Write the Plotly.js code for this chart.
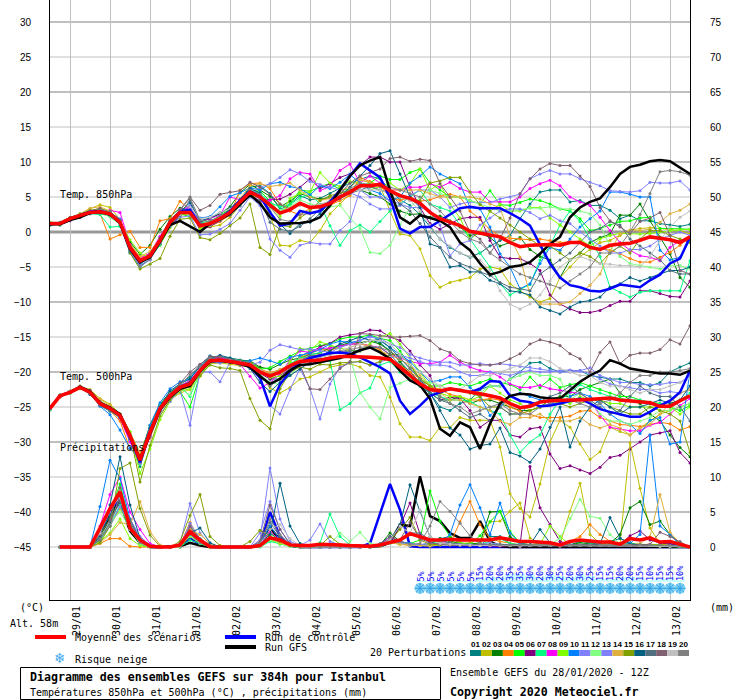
<!DOCTYPE html>
<html><head><meta charset="utf-8">
<script src="https://cdn.plot.ly/plotly-3.0.1.min.js"></script>
<style>html,body{margin:0;padding:0;background:#fff}</style></head>
<body><div id="g" style="width:740px;height:700px"></div>
<script>
const dayLabels=["29/01","30/01","31/01","01/02","02/02","03/02","04/02","05/02","06/02","07/02","08/02","09/02","10/02","11/02","12/02","13/02"];
const pertColors=["#008080","#bfbf00","#008000","#ff8000","#00ff00","#800080","#00ff80","#ff00ff","#80ff00","#0080ff","#8080ff","#80ff80","#8080ff","#dfaf3f","#80a000","#006080","#507080","#806070","#c0c0c0","#808080"];
const snowPct=[5,5,5,5,5,5,15,20,20,35,35,30,20,30,25,20,30,25,15,15,20,20,15,10,15,15,10];

const t850_mean=[1.2,1.2,1.9,2.3,2.8,2.9,2.6,1.4,-2.2,-4.1,-3.4,-1.2,1.4,2.8,2.8,.9,1.2,1.9,2.8,4.3,5.7,5,3.8,2.7,3.2,4.1,3.5,3.6,4.1,5,5.7,6.6,6.6,6.8,5.9,5.2,4.8,4.1,2.8,1.9,1.4,.9,.1,-.2,-.4,-.7,-1.5,-2.1,-1.9,-1.8,-1.8,-1.9,-1.5,-1.5,-2.2,-2.5,-1.9,-1.7,-1.6,-1.2,-.7,-.9,-1.1,-1.5,-.7];
const t850_ctrl=[1.1,1.2,1.9,2.4,2.9,3,2.5,1.3,-2.4,-4.3,-3.5,-1.3,1.3,2.9,3.2,.9,1.1,1.9,3,4.5,5.8,5.1,2.8,.9,1.2,3,2.7,3,4.3,6,8,9.8,8.8,7.8,4.9,.5,-.2,.7,.7,1.6,2.4,3.4,3.6,3.4,3.4,3.4,2.7,1.9,.9,-1.7,-4.5,-6.5,-7.6,-7.9,-8.4,-8.5,-8.1,-7.5,-7.7,-7.9,-6.9,-6.1,-4.5,-3.8,-.7];
const t850_gfs=[1.1,1.1,1.7,2.1,2.7,2.9,2.5,1.3,-2.4,-4.3,-3.6,-1.4,1,1.6,.8,0,1.2,1.8,2.6,4,5.3,4.1,2.1,1.2,1.2,1.3,1.5,2.1,3.8,6,8,9.5,10.2,10.7,5.9,2.1,1.2,2.4,2,1.6,.7,-1.5,-2.6,-4.5,-6.1,-5.7,-5,-4.8,-4.3,-3.1,-1.7,-.7,2.1,3.5,4.3,4.8,6.4,8.3,9.3,9.6,10.1,10.3,10.1,9.2,8.3];
const t850_01=[1,1.3,1.8,2.4,2.9,3,2.5,1.5,-2.5,-4.6,-3,-.8,1.8,3,3.6,1.2,1.6,2.2,3.2,4.6,6.4,6.6,5.5,3.2,4,5.2,4.6,4.8,5.5,6.3,7,7.5,8,7.6,6,4.6,3.8,2.5,.8,-1,-2.2,-3,-3.6,-3,-2,-1.2,-.5,1.9,4,5.7,6,6,4.3,4.5,3.8,3.8,3.1,1.9,2.4,1.6,1.6,1.2,1,.8,1.1];
const t850_02=[1.2,1.1,1.7,2.5,3.3,3.9,3.5,1.8,-1.6,-3.6,-3.1,-1.5,1,2.4,2.6,.6,.7,1,2.1,3.8,5.5,4.2,2.5,-1.9,-2,-1.2,-1.5,.2,2.6,4,5.5,7.5,7,6.6,3,-.3,-.5,-2.4,-6.2,-7.9,-7.2,-6.9,-6.5,-5.3,-5,-5.3,-7.4,-8.4,-9.3,-10,-9.5,-6.5,-5,-3.5,-2.5,-1.5,-1.2,-.5,.3,.5,.6,.5,.4,.2,-.3];
const t850_03=[1.1,1.4,2.1,2.6,3,3.1,2.9,1.2,-1.4,-3.2,-1.9,.4,2.2,3.4,3.2,1.4,1.9,2.6,3.6,5.6,6.8,6,5.1,3.6,4.4,5.5,5,4.7,4.9,5.6,6,6,5.5,5,4,3,2.5,2.6,2.1,2.3,1.6,.7,-.5,-.2,-.8,-2,-1.5,-.8,-2.5,-3.5,-4,-6.5,-4,-3,-1.5,-.8,-.3,2.4,2.4,4,1.6,-.7,-3.1,-6.5,-7.9];
const t850_04=[1.3,1.2,2,2.4,2.9,2.6,-1,-.4,.1,-2.2,-2.2,1.6,1.9,4.4,3.2,.6,.8,1.5,2.4,6,6.9,7,6.2,4,3,2.4,3.4,3.9,3.8,4.5,5.2,7.8,7.2,6.6,5,4.5,5,4.4,4.6,5.1,5.4,5,3,1.8,.3,-.6,-.9,-1,-1.1,-1,-1.2,-1.5,-1.4,-1.3,-2,-2.4,-2.6,-3.1,-3.8,-4.3,-4.3,-3.6,-2.9,-1.9,-.7];
const t850_05=[1.4,1.3,2,2.3,2.7,2.6,2.3,1.1,-2.8,-4.5,-3.7,-1.9,1,2.6,2.2,.9,1.4,2.4,3.2,4.1,5.8,5.9,4.4,2.8,3.9,6,5.8,6.5,6.9,6.1,6,6.5,7,8,7.5,7.5,8.5,9,7,6,5,5,4.5,4,5.9,3.9,3.8,4.2,4.7,4.5,4,3.3,3,1.9,.2,.5,1,1.5,1.6,2,2.1,.5,.5,.4,.4];
const t850_06=[1.2,1,1.6,2.1,2.7,2.9,2.7,1.7,-1.9,-3.9,-3.4,-1.4,.9,2.3,3.1,.3,.8,1.6,2.7,4.4,5.4,4.8,4.6,4.7,5.4,6.4,7.6,6.2,6.9,7.8,8.3,9.5,10.7,10.7,10,10,6.4,3.5,1.2,.4,1.2,1.9,2.1,2.1,-1.2,-3.6,-3.8,-3.8,-4.5,-5.5,-9,-10.3,-11,-11.5,-11.5,-11.2,-10.5,-9.9,-9.9,-8.4,-8.4,-8.8,-9.2,-9.3,-7];
const t850_07=[1.3,1,1.8,2.2,2.6,2.5,.7,.8,-2.6,-4.5,-3.2,-.9,1.5,2.9,2.5,1.3,1.5,2,2.7,4.2,5.8,5.6,4.2,3.6,3.9,4.9,5.4,4,.9,-1.9,.2,1,0,1.5,3,4,5,6,4,3.5,3,1,-1,-3,-5,-7.4,-9,-8.2,-7.5,-4,-2,1,3,1.5,-1,-3.5,-7.9,-8.6,-9.3,-8.6,-8.4,-8.4,-8.4,-8.4,-4.1];
const t850_08=[1.2,1.2,2,2.4,2.9,3,3.1,2.8,-1.8,-3.8,-3,-.6,1.4,3.2,3.5,1.5,1.9,2.4,5,4.6,5.6,4.4,4.5,5.2,7.6,8.5,8.3,5.9,6.5,8.8,9.7,7,8,7,6,6,6.4,6.4,6.9,6.4,7.1,6.2,5.7,5.7,4.3,4.3,4.3,5,6.2,6.9,7.4,6.6,5,4.3,3.8,2.1,.2,-1.5,-2.6,-3.4,-3.6,-4.1,-2.2,-1.2,-.7];
const t850_09=[1,1.1,1.9,2.5,3,3.4,2.9,1.5,-1.1,-3,-3.7,-1.8,.6,2.2,3.3,.5,.9,1.7,2.5,3.9,5.2,4.9,3.7,2.2,4.8,5.5,5.7,8.5,7,6.5,7.2,7,6,6.5,7,6,6.9,9,6,6.9,4,2,-1,0,3,4,3,3,3.5,3.5,2,1,0,-1,-2,-1,-.5,-.2,-.3,-.3,-.2,0,.2,.3,.4];
const t850_10=[1.1,1.3,1.9,2.2,3,2.9,2.4,1,-3,-5,-3.9,-1.7,1.2,2.7,2.9,2,2.2,3.6,5.1,5.6,6.3,6,6.9,7.1,6.5,6.2,5.3,6.6,6.2,7.1,8.2,7,6,5.5,4.5,5,7,8,9.3,8.3,7.6,6.9,3.5,3.3,.7,-3.1,-5,-8.1,-7.4,-4.5,-2.2,-2.6,-1,.7,1.9,3,5.7,5.7,5.4,5,5,-2.6,-4,-3.6,-1.2];
const t850_11=[1.2,1.2,1.7,2.3,2.7,2.8,2.8,1.9,-2.4,-4.7,-4,-1.4,1.2,3.1,3.8,1.1,1,1.7,2.6,4.4,5.5,6.4,6.9,7.8,8.9,8.3,7.2,6.8,6.4,6,5.6,5,4,3.3,3.3,3.8,5.2,6,6,5,3.5,4,4.3,4.2,4.2,4.7,5,5.4,7.6,8.3,8.8,8.3,8.3,7.6,7.1,6.6,5.9,5.8,5.7,5.9,7.1,7,7,7.3,6];
const t850_12=[1.1,1.1,1.8,2.3,2.8,2.9,2.1,1.1,-2.6,-4.2,-3.5,-1,1.3,2.6,2.7,1,1.3,1.8,2.9,4,5.4,4.9,3.4,3.1,3.6,4.6,4,3.7,3.6,3.8,2,.5,-2.9,-3.1,-1.9,1,3.5,5,6,5.5,5,5,4.5,4,3.5,3,3,3.2,3.4,3.4,3.6,3.3,3.3,3,2.6,1,-2,-3.5,-4.5,-4.8,-5,-5.3,-4.8,-4.8,-5.3];
const t850_13=[1.2,1.3,1.9,2.4,2.7,2.7,2.5,1.3,-2.9,-4.8,-3.9,-1.5,.8,2.1,2.3,-.4,-.3,.4,1.2,3.1,5,3.8,-1,-2.6,-3.6,-1.9,-1.5,-1.7,-1.7,.2,1.5,6,5,5,4.5,4,3.5,3.5,3,1,-3.4,-1.7,-1.2,1,2,3,3.3,3.3,2.8,1.9,2.4,1.6,1.2,0,-1,-2,-3,-3,-2.5,-2.5,-2,-1,-.5,0,-.5];
const t850_14=[1.3,1.2,1.8,2.6,3.4,3.6,3,1.6,-1.9,-3.5,-2.8,-.9,1.6,3,2.6,1.1,1.5,2.1,2.9,4.8,6.6,6.9,6.5,6.7,7,6,5,4.5,4.8,5.9,6.4,7.5,7,6.5,6,6,6,6,5.5,5,5,5,5,4.7,4,3.5,-.7,-3.6,-9,-10.3,-10.3,-10.3,-10,-8.8,-7.6,-6,-2.7,-.3,.2,.2,.4,1.4,2.6,3.1,4];
const t850_15=[1.2,1.2,1.9,2.5,3.1,3.2,2.7,1.4,-3,-5.3,-4.6,-3.8,-.6,1.8,2,-.8,-1.1,-.2,.9,2,4,-2.2,-3.2,.9,.8,2,3,4.5,5.2,5.6,5.9,6.5,6.5,6,5.5,5,4.5,4.5,7,7.3,7.8,7.8,5.7,3.9,3,2,1,0,-1,-2,-2,-3,-4,-3,-3.5,-4.5,-3,-2,-3,-1,.2,.2,-.5,-1,-1.5];
const t850_16=[1,1.2,1.8,2.3,2.8,3,2.9,1.7,-2.1,-4,-3.2,-.9,1.6,2.9,4.2,1.6,2,2.7,3.4,4.6,6.2,5.6,2.9,1.1,-.2,1.2,1.4,2.6,4.4,5,6.4,8,9.5,11.2,11.6,8.3,5,3.5,-1.7,-2.2,-5,-4.8,-5.7,-5.7,-6.9,-7.4,-8.4,-8.6,-9,-10.7,-11.2,-11.7,-10.7,-10,-9.8,-9.3,-7.9,-7.4,-6.5,-7,-6.5,-6,-5.5,-5.5,-5];
const t850_17=[1.1,1.3,1.9,2.2,2.6,2.7,2.4,1.3,-2.8,-4.4,-3.5,-1.3,1.1,2.4,4.6,1.3,1.1,1.7,2.4,3.7,5.1,4.5,1.4,.4,.1,.8,1.9,3.3,4,4.8,5.5,6,6.5,6,5.5,4,3,1.2,-.7,-2.2,-3.6,-4.5,-5,-5.7,-6.2,-7.2,-7.9,-8.1,-8.4,-6,-5,-4,-3,-1.5,0,.5,1.5,1,-1,-2,-3,-4,-5.5,-6,-6];
const t850_18=[1.2,1.1,1.8,2.4,3,3.4,2.8,1.5,-2.3,-4.3,-3.3,-1.1,1.6,3.2,5,3.1,3.8,5.4,5.7,5.9,7.1,6.4,5.4,4,3.3,4,3.6,3.9,4.3,5.4,7,8,8.5,9,10.5,10.7,10.1,10.4,10.2,6.9,5,3,0,-1,-3,-1,2,5.5,7.6,9,9.8,9.5,9.5,8,6.5,3.5,1.6,.7,-.2,1.5,2,2.8,-.5,-5.5,-6];
const t850_19=[1.3,1.2,1.9,2.3,2.9,3,2.6,1.4,-2.4,-4.2,-3.4,-1.2,1.4,2.5,3.5,1.9,2.1,2.8,3.3,4.2,5.6,5.2,3.9,2.9,3.3,3.8,3.7,3.9,4.5,5.2,5.8,6,6,6,5.5,5,4.5,3,1,-1,-2,-3,-3.5,-4,-5.5,-8.4,-10.3,-11,-10.3,-9,-7,-5,-4,-3.5,-4,-4.5,-4.6,-4.8,-4.8,-5,-3.5,-1.2,.7,2.1,3];
const t850_20=[1.1,1.2,2,2.4,2.8,3.1,2.8,1.6,-2.6,-4.9,-3.9,-1.6,1.2,3,4.9,1.7,1.5,2.3,3.1,4.5,6,5.4,3.6,1.8,1.5,2.5,2.6,3.1,4,5.1,6.2,7,6.8,6.5,6.4,6,5.5,5,4,3,1.5,0,-1,-1.5,-3,-4,-5,-6,-6.5,-7,-7.5,-8,-7,-6,-5,-3,-3,-2,0,2.5,5.5,8.6,8.8,8.6,8.1];

const t500_mean=[-25.2,-23.4,-22.9,-22.2,-22.9,-24.5,-25.2,-26.2,-29.1,-32.6,-28.6,-25.2,-23.4,-22.2,-21.7,-19.8,-18.4,-18.3,-18.5,-18.7,-19,-20,-20.6,-20,-19.1,-18.5,-18.4,-18.3,-18,-17.8,-17.8,-17.8,-17.9,-18,-18.2,-19.3,-20.5,-21.7,-22.5,-22.7,-22.4,-22.6,-22.9,-23.1,-23.4,-23.7,-24.5,-25.1,-24.9,-24.3,-24.1,-24,-24,-24,-23.9,-23.7,-23.7,-24,-24.1,-24.3,-24.4,-24.9,-24.9,-24.1,-23.4];
const t500_ctrl=[-25.2,-23.4,-22.9,-22.2,-22.9,-24.5,-25.2,-26.2,-29.3,-32.9,-28.7,-25.2,-23.4,-22.2,-21.6,-19.8,-18.4,-18.3,-18.5,-18.7,-19.2,-20.8,-24.9,-21.8,-19.9,-18.6,-18,-17.6,-17.3,-17.2,-17.4,-17.9,-18.6,-19.3,-20.2,-24.1,-26,-24.8,-23.4,-22.9,-22.4,-22.6,-22.9,-22.4,-21.3,-21.4,-23.4,-24.1,-24.3,-24.9,-24.8,-24.5,-24.1,-23.8,-24.5,-25.3,-25.7,-26.1,-26.4,-26.4,-25.7,-24.8,-24.1,-22.9,-19.8];
const t500_gfs=[-25.2,-23.4,-22.9,-22.1,-22.8,-24.4,-25.1,-26,-29,-32.6,-28.8,-25.4,-23.6,-22.4,-22,-19.9,-18.5,-18.4,-18.6,-18.8,-19.3,-20.6,-21.7,-21,-19.8,-19,-18.9,-18.6,-18.3,-18,-17.5,-16.9,-16.5,-17.2,-18.1,-19.8,-21.2,-21.9,-23.8,-28.1,-29.1,-27.2,-27.9,-31,-27.4,-24.5,-23.4,-23.1,-23.2,-23.6,-23.8,-23.8,-22.6,-21.4,-20.5,-19.8,-18.3,-18.8,-19.5,-19.8,-20,-20.2,-20.2,-20.4,-19.8];
const t500_01=[-25.3,-23.5,-23,-22,-23.1,-24.8,-25.6,-26.5,-29.8,-33.5,-28.9,-25.4,-23.1,-21.6,-20.7,-19,-17.8,-17.8,-18,-18.3,-18.5,-19.5,-21,-21,-19.5,-17.8,-17,-16.6,-16.9,-16.3,-16,-16,-15.5,-15.8,-17,-18.5,-20,-21.5,-23,-25,-25.5,-24.5,-24,-22.5,-22,-22,-21,-20,-18.7,-18.6,-19.5,-20,-19.8,-19.8,-20.5,-20.8,-21,-21,-21.5,-21.5,-22,-21.5,-20,-19.3,-18.7];
const t500_02=[-25.2,-23.3,-22.8,-22.1,-22.5,-23.8,-24.6,-26,-28.6,-31.6,-28,-25.6,-24,-23,-22.5,-20.6,-18.8,-18.7,-18.9,-19.1,-19.3,-20.2,-22.3,-23,-22.2,-21,-20.7,-20,-19.3,-19,-18.8,-19.3,-20.5,-20.7,-23.6,-27.4,-29.3,-29.3,-29.8,-27.9,-27.9,-26.5,-26.9,-26.9,-26.9,-30.7,-37.4,-39.5,-40.7,-36,-30,-26.9,-27.9,-30.3,-32.5,-31.4,-27.9,-28.5,-29,-28,-27,-26,-25.5,-25,-24.5];
const t500_03=[-25.4,-23.4,-22.8,-22.3,-23,-24.4,-25.4,-26.4,-29.3,-32,-27.6,-24.6,-22.9,-21.9,-21.4,-19.5,-17.7,-18,-18.4,-18.4,-18.4,-19.3,-19.6,-18.9,-18.3,-18,-17.5,-17.3,-16.5,-16.2,-15.8,-15.8,-15.6,-16,-17,-18.5,-20.5,-22,-23,-24,-24,-23.5,-24.5,-24,-24,-24.5,-25,-25.5,-25.5,-25,-24,-23.5,-23.5,-22.5,-22,-21.5,-21,-23,-24,-24.5,-26,-27,-29,-30.8,-32.1];
const t500_04=[-25,-23.6,-22.9,-22.2,-23,-24.6,-25.5,-27,-31,-32,-29.4,-25.7,-23.3,-22.3,-22.2,-20.3,-18.3,-18.2,-18.6,-18.8,-18.5,-19.6,-20.1,-19.7,-19,-17.9,-17.4,-16.8,-16.9,-16.4,-16,-16,-16.2,-16.8,-18,-19,-20,-21,-22,-22.5,-23.2,-23.5,-24,-24,-23.8,-24,-25,-25.6,-26,-26.5,-26.5,-26.5,-26.3,-25.6,-25.5,-26.5,-27,-27.5,-27.6,-27.8,-27.5,-27.2,-27.4,-28.3,-27.8];
const t500_05=[-25.1,-23.3,-22.9,-22.3,-22.8,-24.6,-25.1,-26.4,-29.6,-33,-28.4,-24.9,-23.6,-22.8,-25,-20.4,-18.6,-18.4,-18.2,-18.4,-18.6,-19.6,-19.4,-18.5,-17.7,-17,-16.6,-16.2,-15.9,-15.3,-15,-15,-14.7,-15.2,-15.5,-17,-19,-21,-22,-22,-21.5,-21.8,-22,-21.5,-21,-21.5,-21.8,-22.5,-20.7,-22.2,-21,-22.2,-21.8,-21.5,-22,-22.5,-23,-23.5,-23.5,-24,-24.3,-24.5,-25,-25.5,-24.8];
const t500_06=[-25.2,-23.4,-22.9,-22.1,-22.7,-24.3,-25.1,-26.2,-29.2,-32.8,-29,-25.5,-23.6,-22.4,-21.9,-19.9,-18.3,-18,-18.3,-18.6,-19.1,-20.2,-21,-20.5,-19.6,-18.3,-17.4,-16.4,-15.9,-15,-14.7,-14.5,-14,-14.1,-15,-15.5,-17,-19,-20.5,-24,-23.6,-23.8,-25.5,-27.9,-26.9,-26.9,-29,-29.3,-28.1,-27.9,-31.7,-33.8,-33.4,-34,-34.5,-33.6,-32.2,-31.9,-31,-30,-29,-28.7,-28.4,-31.5,-33];
const t500_07=[-25.4,-23.5,-22.7,-22.2,-22.9,-24.6,-25.3,-26.2,-29.4,-33.2,-27.9,-24.8,-23,-22,-23.5,-20,-18.4,-18.3,-18.4,-18.6,-18.9,-19.9,-20.4,-19.8,-18.8,-18,-17.6,-17.2,-18.4,-25.4,-24.5,-23,-22.3,-19,-18.5,-20,-21,-22,-23,-23.5,-24,-24,-24.2,-25,-25.5,-26,-29,-31.5,-30,-29,-26,-24,-23,-21.8,-22.5,-23,-23.5,-23.8,-24,-24,-24.5,-24.5,-25,-24,-23];
const t500_08=[-25.2,-23.4,-22.8,-22.2,-22.8,-24.4,-25.2,-26.6,-30,-33,-29,-25.3,-23.2,-22,-21.2,-19.5,-18,-18,-18.2,-18.9,-20.6,-22.3,-21.5,-20.3,-18.3,-17,-17.2,-16.6,-16.6,-16.3,-16,-16,-16.2,-16.5,-17.5,-18,-18.5,-18.8,-18.8,-18.6,-17.6,-18.6,-19.3,-19.8,-20,-20.7,-21.7,-22.2,-22.2,-21.9,-22.4,-22.6,-22.9,-23.1,-24,-26.2,-27.9,-28.1,-28.4,-28.4,-27.6,-27.2,-26,-24.8,-23.8];
const t500_09=[-25.3,-23.5,-23,-22.4,-22.9,-24.2,-24.9,-26,-28.5,-34.5,-31,-26.8,-24.2,-22.7,-22.4,-20.2,-18.2,-18.6,-18.3,-18.5,-18.8,-19.7,-20.8,-20.6,-18.5,-16.6,-16.9,-15.7,-16.2,-16.6,-16.9,-17,-16,-15,-14.5,-16,-18,-20,-22,-23,-23.5,-23.5,-24,-23.5,-22,-23,-24,-24.5,-25.5,-25,-24,-24,-24.5,-23.5,-24,-24,-24.5,-24.5,-25,-25,-25,-25,-25,-26,-25];
const t500_10=[-25.1,-23.3,-22.9,-22.2,-23,-24.9,-26.1,-28.3,-30.9,-32.4,-27.6,-24.4,-22.4,-21.4,-21,-19,-17.7,-18.6,-18.4,-18.5,-18.4,-18,-18.4,-18.9,-17.9,-17.6,-17.3,-16.8,-16,-15.6,-15.8,-15.5,-14.8,-15.5,-16.5,-17.5,-18.5,-20,-21.4,-21.2,-20.7,-20.7,-22.2,-23.5,-26.2,-25,-23.5,-23,-23.5,-24,-24.5,-24.5,-23.5,-23,-23.5,-24.5,-26,-27,-27.5,-28.8,-26.9,-26.5,-30.3,-30,-19.8];
const t500_11=[-25.2,-23.5,-22.9,-22.1,-22.8,-24.4,-25.1,-26.2,-29.3,-32.4,-28.3,-25.2,-23.7,-22.5,-21.8,-19.8,-18.6,-18.7,-18.3,-18.7,-19,-18.6,-16.9,-16.1,-16.4,-16.8,-16.7,-17,-17.2,-16.5,-16,-15.5,-15,-15.2,-16,-16.5,-17.5,-18,-18.4,-18.6,-18.6,-19,-19,-18.8,-19,-18.8,-19,-19.2,-19.3,-19.5,-19.8,-20,-20,-19.8,-19.4,-20.5,-21,-21.5,-21.5,-21.8,-21.8,-21.8,-21.5,-21.5,-20.5];
const t500_12=[-25.3,-23.4,-22.9,-22.3,-23,-24.5,-25.3,-26.3,-29,-32.5,-28.7,-25.3,-23.5,-22.3,-23.3,-20.1,-18.5,-18.4,-18.6,-18.9,-19.2,-20.3,-21.5,-21.8,-20.5,-19,-18.9,-18.7,-18.3,-18,-17.9,-22.9,-25,-26.7,-22.2,-21.6,-21,-21,-21.5,-22,-22.5,-22.5,-23,-23,-22,-22,-21,-20.5,-20,-20.5,-20.5,-21,-24,-23,-24,-26,-27,-27,-27.5,-27,-26.5,-25.5,-25.5,-25,-24.5];
const t500_13=[-25.2,-23.4,-22.8,-22.2,-22.9,-24.5,-25.2,-26.3,-29.6,-33,-29.2,-25.9,-24.2,-22.6,-27.6,-20,-20,-21.4,-18.6,-18.9,-19.4,-21,-24.8,-26,-22.5,-19.5,-22.4,-26.7,-21.7,-19.3,-18.7,-18.5,-19,-18.6,-18,-17.6,-18,-18.5,-19,-19,-19.2,-20,-20.5,-20.5,-20,-20.2,-20.5,-20,-19.8,-20,-20,-19.8,-19.7,-19.9,-20.2,-21,-21.7,-22,-22.2,-22.5,-22.5,-23,-22.8,-23,-22.5];
const t500_14=[-25.1,-23.4,-22.7,-22,-22.6,-23.9,-24.8,-26.4,-28.9,-31.5,-28.8,-25.6,-23.8,-22.6,-22.1,-20.2,-18.5,-18.2,-18.3,-18.6,-18.9,-19.7,-20.2,-19.6,-19,-18.2,-17.7,-17.5,-17.5,-17,-16.5,-16,-16.3,-17,-17.5,-18.2,-19,-20.5,-22,-23,-24,-24,-24.5,-25,-25.5,-27,-27.5,-26.5,-26.5,-26,-27,-27,-27,-26.5,-27.5,-28,-27.5,-28,-29,-28,-27.5,-26,-24.5,-23,-22.5];
const t500_15=[-25.2,-23.4,-23,-22.3,-22.9,-24.5,-25.1,-26.1,-28.9,-35.7,-30.5,-26.3,-24,-22.5,-22,-20.5,-19,-19.4,-19.5,-19.8,-23.8,-26.9,-28.1,-22.4,-20,-19.3,-19.6,-18.9,-19,-18.7,-18.6,-18.5,-19,-18.5,-17.5,-17.5,-19,-21,-22,-23,-22.5,-22.5,-23,-23.5,-25,-25,-26,-26,-25.5,-25,-24,-24.5,-25,-24.5,-24,-24,-25,-25.5,-26,-26,-25,-25.5,-26,-27,-31.5];
const t500_16=[-25.3,-23.5,-22.9,-22.2,-23.2,-24.7,-25.4,-26.5,-29.5,-32.2,-28,-25,-22.7,-21.7,-21,-19.2,-18.1,-17.6,-18,-18.6,-19.5,-21.5,-22.8,-21.5,-20.5,-19.6,-18.6,-17.9,-17,-16,-15.5,-15,-15.5,-15.4,-16.5,-18,-19.5,-21,-23,-25.5,-28,-29,-31,-30.5,-30.3,-28,-31.5,-32,-32.9,-31,-27.9,-25,-30.7,-27,-25,-24,-25,-26,-25,-25,-24.5,-24,-24.5,-24,-22];
const t500_17=[-25,-23.5,-22.9,-22.2,-23.1,-24.8,-25.5,-26.5,-29.4,-32.7,-28.5,-25.4,-23.3,-22,-21.4,-19.7,-18.3,-18.4,-18.6,-19,-19.3,-20.6,-22,-21,-19.7,-18.4,-17.7,-17.6,-17.5,-17.2,-17,-17,-16.5,-16.5,-17.5,-19,-20.5,-22,-23,-24,-24.5,-25.5,-26.5,-26,-27,-25,-26,-26,-24.5,-24.2,-23.5,-23,-22,-23,-24,-25,-26,-25.5,-23.5,-22,-23,-23.5,-23.5,-25,-27];
const t500_18=[-25.2,-23.4,-22.8,-22.1,-22.6,-24.2,-25,-26,-29,-32.3,-29.3,-25.6,-23.2,-21.6,-20,-18.9,-17.8,-17.8,-18.2,-18.4,-18.7,-19.8,-20.4,-20,-19.6,-19,-22.4,-22.5,-21,-19.5,-18.5,-14.5,-14.6,-14.8,-15,-15,-14.9,-14.8,-15.5,-16.7,-17.2,-18.4,-18.8,-19,-19,-18.8,-18.1,-17.4,-16,-15.4,-15.7,-16.2,-17.4,-18.1,-20,-17.2,-15.7,-18.8,-17.6,-17.3,-17.3,-16.8,-15.4,-16,-13.4];
const t500_19=[-25.2,-23.4,-22.9,-22.2,-22.9,-24.4,-25.2,-26.2,-29,-32.4,-28.5,-25.2,-23.5,-22.3,-21.6,-19.7,-18.3,-18.2,-18.4,-18.6,-18.9,-19.8,-20.5,-19.9,-19,-18.3,-18.1,-17.9,-17.5,-17,-16.5,-16,-15.5,-15.5,-16,-17.5,-19,-20,-21,-22,-22.5,-22.5,-21.5,-20.5,-20.5,-20,-19.5,-19,-18,-18,-18.5,-19.5,-20,-20.5,-20.5,-21.5,-22,-22,-22.5,-23,-22.5,-22.5,-22,-21.5,-21];
const t500_20=[-25.3,-23.5,-22.8,-22.3,-23,-24.6,-25.3,-26.3,-29.2,-32.9,-28.7,-25.1,-23.1,-21.9,-20.4,-19.2,-18,-18.1,-18.5,-18.8,-19.2,-20.4,-21.8,-21,-19.8,-18.7,-18,-17.7,-17.4,-17,-16.7,-16.5,-16.3,-16.5,-17,-18,-19.5,-21,-22.5,-23.5,-24.5,-25,-26,-25.5,-25,-24.5,-25.5,-26,-26,-25,-24.5,-24,-24,-24.5,-25,-24.5,-24,-23,-21.5,-20.5,-20.5,-20,-20,-19.8,-19.5];

const pr_mean=[null,0,0,0,0,2.7,5.5,7.9,2.7,1,.1,0,0,.3,2.2,1,.05,0,0,0,0,.2,1.3,1,.3,.2,.2,.4,.4,.3,.2,.1,.1,.3,.6,1,1.9,1.5,1,1,1.1,1,1,1,1,1.3,1,.8,.8,.7,.6,.3,.8,1,.8,.7,.7,.4,1.2,1,1.3,.7,.8,.4,0];
const pr_ctrl=[null,0,0,0,0,2,5,7,2.5,.7,0,0,0,.1,1.2,.4,0,0,0,0,0,.2,5,1.5,.2,0,0,0,0,0,0,0,.5,4.9,9,5.3,.1,0,0,0,0,0,0,0,0,0,0,0,0,0,0,0,0,0,0,0,0,0,0,0,0,0,0,0,0];
const pr_gfs=[null,0,0,0,0,1.5,4.5,6.5,2.3,.6,0,0,0,.1,.6,.2,0,0,0,0,0,.2,2.8,1,.2,0,0,0,0,0,0,0,0,.1,.6,3.2,3,10.1,4.4,3.7,2,1.3,1.3,3.7,.8,.1,0,0,0,0,0,0,0,0,0,0,0,0,0,0,0,0,0,0,0];
const pr_01=[null,0,0,0,0,2,4.5,6.5,3,1,.2,0,0,.1,2.5,.8,0,0,0,0,0,.3,2,1,.2,0,0,0,0,0,0,0,0,.4,1.5,.7,.4,.2,.5,1.2,1.5,.5,.3,.2,1.5,1.5,.5,.2,.3,.5,.5,.2,.3,.8,.6,.4,.8,1.2,.6,.3,.2,.3,.5,.2,0];
const pr_02=[null,0,0,0,0,1,3,5.5,3,1,.1,0,0,0,1.5,.5,0,0,0,0,0,.2,1,.5,.1,0,0,0,0,0,0,0,0,.2,.8,.5,.3,.2,.1,.3,.8,.5,.6,.4,3.6,3.7,5.1,6.3,1.3,.5,.3,.4,5.1,9.1,1.8,.5,.3,.4,14.9,8.4,2.7,.5,.2,.1,0];
const pr_03=[null,0,0,0,0,1.5,4,7,3,.8,.2,0,0,.1,1.8,.6,.1,0,0,0,0,.2,1.2,.6,.2,0,0,0,.3,.1,0,0,0,.3,2,.8,.4,.2,.4,1.2,.8,.5,.4,.6,5,5.1,1.5,.5,.3,.3,.5,.4,.3,.6,.4,.3,.5,1.8,5.6,6.5,3.2,3.7,1.8,.4,0];
const pr_04=[null,0,0,0,0,.5,1.2,1.2,.1,0,0,0,0,.3,3.5,1,.1,0,0,0,0,.2,1.5,.8,.2,0,0,0,0,0,0,0,0,.1,.6,.4,.2,.2,.2,.6,.4,3.6,6.5,3.2,1.2,.8,.5,.3,.2,.2,.4,.2,.8,1.5,3.2,1.8,.8,.5,.4,.3,.4,.3,.2,.1,0];
const pr_05=[null,0,0,0,0,2.5,5,9,3.5,.8,.1,0,0,0,3,1.2,.2,0,0,0,0,.2,2,.8,.2,0,0,0,.2,0,0,0,0,.3,1,.6,.5,1,8,3.7,1.5,.6,.4,1.6,3.6,5.1,2.2,.6,.3,.5,.3,.2,.3,.4,.3,.2,.4,.4,.5,.4,.3,.3,.2,.1,0];
const pr_06=[null,0,0,0,0,1.5,3.5,7,3,.6,.1,0,0,.2,2,.8,.1,0,0,0,0,.1,1.5,.7,.2,0,0,0,0,0,0,0,0,.2,.6,3,6.3,1.8,.6,.4,.3,.2,.2,.2,.1,.1,.2,.3,11.5,5.6,3.2,.8,.3,.3,.2,.2,.3,.4,1.6,2.3,1,.6,.4,.2,0];
const pr_07=[null,0,0,0,0,1,3,6,2.5,.5,0,0,0,0,1,.5,0,0,0,0,0,0,.8,.4,.1,0,0,.6,4.7,1.5,.3,.2,.1,.3,.8,.5,.3,.2,.4,.9,.6,.4,.3,.4,.8,1.2,.5,.3,.2,.3,.4,.3,.2,.3,.4,.3,.3,.2,.3,.2,.2,.1,.1,.1,0];
const pr_08=[null,0,0,0,0,3,7.5,10,5,2.5,.5,0,0,.1,2.8,1,.1,0,0,0,0,.3,2.2,1,.2,0,0,0,0,0,0,0,0,.3,1.5,.8,.4,.3,.3,.6,.5,.4,.3,.3,.2,.2,.2,.1,.2,.3,.2,.2,.2,.3,.3,.2,.2,.2,.2,.3,.2,.2,.2,.1,0];
const pr_09=[null,0,0,0,0,.8,2,4,1.2,.2,0,0,0,0,2.5,.8,0,0,0,0,0,.2,1,.5,.1,0,0,0,0,0,.2,0,0,.2,.7,.4,.3,.3,.4,.5,.4,.6,.3,.3,.5,.4,.3,.2,.3,.4,3,1.5,.3,.3,.2,.2,.2,.3,.2,.2,.2,.1,.1,.1,0];
const pr_10=[null,0,0,0,0,5.8,12.4,9.8,4,1,.1,0,0,.2,2,.7,.1,0,0,0,0,.4,3,1,.2,0,0,0,0,.1,0,0,.1,.2,.5,.8,.5,.3,.4,.5,1.8,6,8.9,5.6,1.8,6.3,2,.5,.3,.2,.2,.2,.3,.3,.2,.2,.2,.3,.5,1.8,16,3,1.8,.3,0];
const pr_11=[null,0,0,0,0,1.2,3,5.8,3.2,1,.1,0,0,.2,3.4,1.2,.1,0,0,0,0,2,6.5,2.5,.4,0,0,0,.1,0,0,0,0,.2,.8,.5,.3,.3,.6,1,.5,.4,.3,.4,.6,.4,.3,.2,.2,.3,.2,.2,.3,.3,.2,.2,.2,.2,.3,.2,.2,.2,.2,.1,0];
const pr_12=[null,0,0,0,0,1.5,3.5,5,2.8,.5,0,0,0,.1,1.6,.6,.1,0,0,0,0,.1,1,.6,.1,0,0,0,.3,2,.8,2.1,.5,.3,.5,.5,.3,.2,.3,.6,.4,.3,.3,.3,.4,.3,.2,.2,.3,.3,.4,1.2,4.1,6.8,4.4,4.1,1.8,.4,.3,.3,.2,.2,.1,.1,0];
const pr_13=[null,0,0,0,0,2,5,7.5,4,1.5,.3,0,0,.5,6.2,2,.3,0,0,0,0,1,11.3,4,.8,.2,1,3.3,.8,.3,.2,.2,.1,.3,.8,.5,.3,.2,.3,.5,.4,.3,.3,.3,.4,.3,.2,.2,.2,.3,.3,.2,.3,.3,.2,.2,.2,.2,.3,.2,.2,.2,.2,.1,0];
const pr_14=[null,0,0,0,0,.6,1.8,3.5,3.2,6.5,2.2,.3,0,.2,2.4,1.8,.5,0,0,0,0,.2,1.2,.6,.2,0,0,0,0,0,0,0,0,.2,.6,.4,.3,.2,.3,.5,.4,.3,.3,.2,.3,.2,.2,.3,.2,.3,.2,.2,.3,.3,.2,.2,.3,.3,.3,.5,1.5,7.5,2.1,.5,0];
const pr_15=[null,0,0,0,0,.6,3,11.2,12,5.5,1.7,.1,0,.8,4.5,7.5,1.5,.2,0,0,.8,2.4,1.5,.8,.2,.1,.1,.2,1.5,.4,.2,.1,.1,.3,1,2.5,4.2,1,.4,.3,.3,.3,.2,.2,.3,.3,.2,.2,.2,.3,.2,.2,.3,.2,.2,.3,.3,.3,.2,.2,.2,.2,.1,.1,0];
const pr_16=[null,0,0,0,0,1.5,6,12.9,6,1.2,.2,0,0,.2,2,2.7,.6,0,0,0,0,.3,1.8,9.1,3,.5,.1,0,0,0,0,0,0,.3,1,3.2,8.9,5.1,1.5,.5,.4,.3,.3,.3,.3,.3,.2,.2,.3,2.5,.6,.3,.3,.2,.3,.4,4.2,1.3,.4,.3,.2,.2,.2,.1,0];
const pr_17=[null,0,0,0,0,1,3.5,6.5,4,1,.2,0,0,.1,2,1,.2,0,0,0,0,.6,3.5,1.5,.4,.1,0,0,0,0,0,0,0,.5,1.5,.8,2,2,1,1,.6,.4,.3,.3,.3,.3,.3,.2,.3,.3,.2,.2,.2,.3,.2,.2,.3,.2,.2,.2,.2,.2,.1,.1,0];
const pr_18=[null,0,0,0,0,1.8,4,8.5,3.5,1.2,.2,0,0,.1,3,1,.1,0,0,0,0,.8,6,2.5,.5,.1,0,0,0,0,0,0,0,.3,1.2,1,3.5,1.2,.6,.4,.3,.3,.2,.3,.2,.2,.2,.2,.2,.2,.2,.2,.2,.2,.2,.2,.2,.3,.3,.3,.4,2.1,1.5,.8,0];
const pr_19=[null,0,0,0,0,2,5.5,7,2.5,.7,0,0,0,0,2.2,.7,.1,0,0,0,0,.4,2.5,3.2,1.2,.2,0,0,0,0,0,0,0,.3,1,3,2,5.3,1.5,.5,.4,.3,.3,.2,.2,.2,.2,.1,.2,.2,.2,.1,.2,.2,.2,.2,.2,.2,.2,.2,.2,.1,.1,.1,0];
const pr_20=[null,0,0,0,0,1.2,3,7.5,3,.6,.1,0,0,.1,1.8,.6,.1,0,0,0,0,.5,4,1.8,.3,0,0,0,0,0,0,0,0,.2,.7,.8,.4,.5,3,6.5,5.1,3.4,1.6,.5,.3,.3,.3,.2,.2,.2,.2,.2,.2,.2,.2,.2,.2,.2,.2,.3,.3,.3,.2,.1,0];

const t850=[t850_01,t850_02,t850_03,t850_04,t850_05,t850_06,t850_07,t850_08,t850_09,t850_10,t850_11,t850_12,t850_13,t850_14,t850_15,t850_16,t850_17,t850_18,t850_19,t850_20];
const t500=[t500_01,t500_02,t500_03,t500_04,t500_05,t500_06,t500_07,t500_08,t500_09,t500_10,t500_11,t500_12,t500_13,t500_14,t500_15,t500_16,t500_17,t500_18,t500_19,t500_20];
const prec=[pr_01,pr_02,pr_03,pr_04,pr_05,pr_06,pr_07,pr_08,pr_09,pr_10,pr_11,pr_12,pr_13,pr_14,pr_15,pr_16,pr_17,pr_18,pr_19,pr_20];

const STEP=6, MONO='"DejaVu Sans Mono", monospace', SANS='"Liberation Sans", Arial, sans-serif';
const hours=t850_mean.map((_,i)=>i*STEP);
const traces=[];
function pert(y,c,ax){traces.push({x:hours,y:y,xaxis:'x',yaxis:ax,type:'scatter',mode:'lines+markers',line:{color:c,width:1},marker:{color:c,size:3,symbol:'circle'},hoverinfo:'skip'});}
function main(y,c,w,ax){traces.push({x:hours,y:y,xaxis:'x',yaxis:ax,type:'scatter',mode:'lines',line:{color:c,width:w},hoverinfo:'skip'});}

const snowHours=snowPct.map((_,i)=>(37+i)*STEP);
traces.push({type:'bar',x:snowHours,y:snowPct.map(p=>p*0.033),base:-50,width:STEP,marker:{color:'#ccffff',line:{width:0}},xaxis:'x',yaxis:'y',hoverinfo:'skip'});
traces.push({type:'scatter',mode:'markers',x:snowHours,y:snowPct.map(()=>-50.9),marker:{symbol:'circle',size:11,color:'#86d4f2'},xaxis:'x',yaxis:'y',hoverinfo:'skip'});
traces.push({type:'scatter',mode:'markers',x:snowHours,y:snowPct.map(()=>-50.9),marker:{symbol:'asterisk-open',size:9,color:'#2f9fe8',line:{color:'#2f9fe8',width:1}},xaxis:'x',yaxis:'y',hoverinfo:'skip'});

main(pr_ctrl,'#0000ff',2.5,'y2');main(pr_gfs,'#000000',2.5,'y2');
prec.forEach((s,i)=>pert(s,pertColors[i],'y2'));
t500.forEach((s,i)=>pert(s,pertColors[i],'y'));
main(t500_ctrl,'#0000ff',2.5,'y');main(t500_gfs,'#000000',2.5,'y');
t850.forEach((s,i)=>pert(s,pertColors[i],'y'));
main(t850_ctrl,'#0000ff',2.5,'y');main(t850_gfs,'#000000',2.5,'y');
main(pr_mean,'#ff0000',3.5,'y2');main(t500_mean,'#ff0000',3.5,'y');main(t850_mean,'#ff0000',3.5,'y');

const px=x=>(x-50)/640, py=y=>(600-y)/600;
const ann=[],shp=[];
function T(x,y,text,opt){ann.push(Object.assign({xref:'paper',yref:'paper',x:px(x),y:py(y),text:text,showarrow:false,xanchor:'left',yanchor:'middle',borderpad:0,borderwidth:0,font:{family:MONO,size:10,color:'#000'}},opt||{}));}
T(60,195,'Temp. 850hPa');T(60,376,'Temp. 500hPa');T(60,447,'Précipitations');
T(20,607,'(°C)');T(10,623,'Alt. 58m');T(710,607,'(mm)');
T(75,637,'Moyenne des scénarios');T(265,637,'Run de contrôle');T(265,647,'Run GFS');
T(75,659,'Risque neige');T(370,652,'20 Perturbations');
T(30,677,'<b>Diagramme des ensembles GEFS sur 384h pour Istanbul</b>',{font:{family:MONO,size:11.6,color:'#000'}});
T(30,692,'Températures 850hPa et 500hPa (°C) , précipitations (mm)');
T(450,672,'Ensemble GEFS du 28/01/2020 - 12Z');
T(450,692,'<b>Copyright 2020 Meteociel.fr</b>',{font:{family:MONO,size:11.6,color:'#000'}});
T(60,658,'❄',{xanchor:'center',font:{family:'"DejaVu Sans"',size:14,color:'#3fa9ee'}});

function R(x0,y0,x1,y1,o){shp.push(Object.assign({type:'rect',xref:'paper',yref:'paper',x0:px(x0),x1:px(x1),y0:py(y0),y1:py(y1),line:{width:0}},o));}
R(35,635,66,639,{fillcolor:'#ff0000'});R(225,635,256,639,{fillcolor:'#0000ff'});R(225,645,256,649,{fillcolor:'#000000'});
R(20.5,667.5,440.5,699.5,{fillcolor:'rgba(0,0,0,0)',line:{color:'#000',width:1}});
pertColors.forEach((c,i)=>{const x0=470+i*10.95;R(x0,650,x0+10.95,656,{fillcolor:c});
 T(x0+5.5,644,'<b>'+String(i+1).padStart(2,'0')+'</b>',{xanchor:'center',font:{family:SANS,size:8,color:'#000'}});});

snowPct.forEach((p,i)=>ann.push({xref:'x',yref:'paper',x:(37+i)*STEP,y:py(581.5),text:p+'%',textangle:-90,showarrow:false,xanchor:'center',yanchor:'bottom',borderpad:0,borderwidth:0,font:{family:MONO,size:8.5,color:'#0000ff'}}));

const gridC='#c0c0c0';
const T_TOP=232/7, T_BOT=-368/7;
const layout={width:740,height:700,margin:{l:50,r:50,t:0,b:100,pad:0},paper_bgcolor:'#fff',plot_bgcolor:'#fff',showlegend:false,bargap:0,
 xaxis:{range:[0,384],tickmode:'array',tickvals:dayLabels.map((_,i)=>12+4.2+24*i),ticktext:dayLabels,tickangle:-90,ticks:'',ticklabelstandoff:1,showgrid:false,zeroline:false,showline:true,linecolor:'#000',linewidth:1,
  tickfont:{family:MONO,size:10,color:'#000'},minor:{tick0:12,dtick:24,showgrid:true,gridcolor:gridC,gridwidth:1,ticks:''}},
 yaxis:{range:[T_BOT,T_TOP],tickmode:'array',tickvals:[-45,-40,-35,-30,-25,-20,-15,-10,-5,0,5,10,15,20,25,30],ticks:'outside',ticklen:16,tickcolor:'rgba(0,0,0,0)',tickfont:{family:SANS,size:10,color:'#000'},
  showgrid:false,zeroline:false,showline:true,linecolor:'#000',linewidth:1},
 yaxis2:{overlaying:'y',side:'right',range:[T_BOT+45,T_TOP+45],tickmode:'array',tickvals:[0,5,10,15,20,25,30,35,40,45,50,55,60,65,70,75],ticks:'outside',ticklen:17,tickcolor:'rgba(0,0,0,0)',tickfont:{family:SANS,size:10,color:'#000'},showgrid:false,zeroline:false,showline:true,linecolor:'#000',linewidth:1},
 annotations:ann,shapes:shp};
[-45,-40,-35,-30,-25,-20,-15,-10,-5,0,5,10,15,20,25,30].forEach(v=>{
 const thick=v%10===0;
 shp.push({type:'line',layer:'below',xref:'paper',yref:'y',x0:0,x1:1,y0:v,y1:v,line:{color:v===0?'#999999':gridC,width:v===0?3:(thick?2:1)}});
});
Plotly.newPlot('g',traces,layout,{displayModeBar:false,staticPlot:true});
</script></body></html>
